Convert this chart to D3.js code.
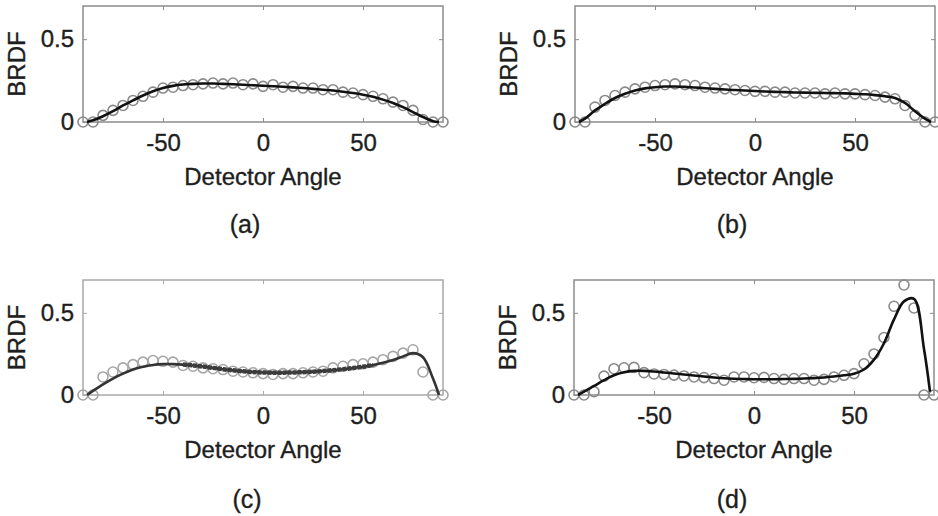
<!DOCTYPE html>
<html>
<head>
<meta charset="utf-8">
<script src="https://cdn.jsdelivr.net/npm/d3@7"></script>
<style>
  body { margin: 0; background: white; }
  text { font-family: "Liberation Sans", Arial, sans-serif; fill: #1e1e1e; stroke: #1e1e1e; stroke-width: 0.35px; }
</style>
</head>
<body>
<div id="chart"></div>
<script>

// measured points, every 5 degrees
var angles = [-90, -85, -80, -75, -70, -65, -60, -55, -50, -45, -40, -35, -30, -25, -20, -15, -10, -5, 0,
              5, 10, 15, 20, 25, 30, 35, 40, 45, 50, 55, 60, 65, 70, 75, 80, 85, 90];

// model fit curve
var fitAngles = [-88, -85, -80, -75, -70, -65, -60, -55, -50, -45, -40, -35, -30, -25, -20, -15, -10, -5, 0,
                 5, 10, 15, 20, 25, 30, 35, 40, 45, 50, 55, 60, 65, 70, 75, 80, 85, 88];

var measA = [0, 0, 0.04, 0.07, 0.10, 0.13, 0.155, 0.18, 0.205, 0.21, 0.22, 0.225, 0.23, 0.235, 0.23, 0.235, 0.225, 0.23, 0.215,
             0.225, 0.21, 0.215, 0.205, 0.205, 0.195, 0.195, 0.18, 0.175, 0.165, 0.155, 0.14, 0.12, 0.1, 0.07, 0.015, 0, 0];
var fitA = [0, 0.01, 0.035, 0.065, 0.10, 0.13, 0.16, 0.185, 0.205, 0.218, 0.226, 0.23, 0.232, 0.232, 0.23, 0.228, 0.225, 0.222, 0.219,
            0.216, 0.213, 0.209, 0.205, 0.2, 0.195, 0.19, 0.183, 0.175, 0.165, 0.152, 0.135, 0.115, 0.09, 0.06, 0.03, 0.005, 0];

var measB = [0, 0, 0.09, 0.13, 0.16, 0.18, 0.2, 0.21, 0.22, 0.225, 0.23, 0.225, 0.22, 0.21, 0.205, 0.2, 0.195, 0.19, 0.185,
             0.185, 0.18, 0.18, 0.175, 0.175, 0.175, 0.17, 0.175, 0.17, 0.17, 0.165, 0.16, 0.15, 0.14, 0.1, 0.04, 0, 0];
var fitB = [0, 0.02, 0.07, 0.11, 0.145, 0.17, 0.19, 0.203, 0.21, 0.214, 0.214, 0.212, 0.208, 0.204, 0.2, 0.196, 0.193, 0.19, 0.187,
            0.184, 0.182, 0.18, 0.178, 0.177, 0.176, 0.175, 0.174, 0.173, 0.17, 0.167, 0.162, 0.155, 0.145, 0.115, 0.065, 0.02, 0];

var measC = [0, 0, 0.11, 0.14, 0.165, 0.185, 0.2, 0.21, 0.205, 0.2, 0.18, 0.175, 0.165, 0.16, 0.155, 0.145, 0.14, 0.135, 0.13,
             0.125, 0.13, 0.13, 0.135, 0.14, 0.145, 0.165, 0.175, 0.185, 0.19, 0.2, 0.215, 0.235, 0.255, 0.275, 0.14, 0, 0];
var fitC = [0, 0.025, 0.065, 0.1, 0.13, 0.155, 0.172, 0.183, 0.188, 0.188, 0.185, 0.18, 0.173, 0.165, 0.157, 0.15, 0.144, 0.14, 0.137,
            0.136, 0.136, 0.137, 0.139, 0.142, 0.146, 0.151, 0.157, 0.164, 0.172, 0.182, 0.196, 0.213, 0.235, 0.255, 0.23, 0.1, 0];

var measD = [0, 0, 0.02, 0.115, 0.16, 0.166, 0.168, 0.136, 0.128, 0.125, 0.121, 0.116, 0.11, 0.106, 0.1, 0.09, 0.11, 0.11, 0.105,
             0.107, 0.1, 0.095, 0.1, 0.1, 0.09, 0.095, 0.11, 0.12, 0.13, 0.19, 0.25, 0.35, 0.54, 0.67, 0.53, 0, 0];
var fitD = [0, 0.02, 0.055, 0.09, 0.12, 0.138, 0.147, 0.147, 0.143, 0.137, 0.131, 0.125, 0.119, 0.113, 0.107, 0.102, 0.099, 0.097, 0.096,
            0.096, 0.096, 0.097, 0.098, 0.1, 0.103, 0.107, 0.113, 0.12, 0.13, 0.155, 0.215, 0.315, 0.46, 0.57, 0.585, 0.28, 0.02];

var xTicks = [-50, 0, 50];
var yTicks = [0, 0.5];
var xTitle = "Detector Angle";
var yTitle = "BRDF";

var width = 938, height = 516;

var svg = d3.select('#chart')
  .append('svg')
  .attr('width', width)
  .attr('height', height);

// panel boxes in page pixels
var panels = [
  {label: '(a)', meas: measA, fit: fitA, left: 83,  right: 443, top: 6,   bottom: 122, capX: 245, capDy: 111, boxC: '#8c8c8c', dotC: '#8a8a8a', lineC: '#111'},
  {label: '(b)', meas: measB, fit: fitB, left: 575, right: 935, top: 6,   bottom: 122, capX: 732, capDy: 111, boxC: '#8c8c8c', dotC: '#8a8a8a', lineC: '#111'},
  {label: '(c)', meas: measC, fit: fitC, left: 83,  right: 443, top: 280, bottom: 395, capX: 247, capDy: 113, boxC: '#a8a8a8', dotC: '#a6a6a6', lineC: '#333', band: [-42, 56]},
  {label: '(d)', meas: measD, fit: fitD, left: 574, right: 934, top: 280, bottom: 395, capX: 732, capDy: 113, boxC: '#8c8c8c', dotC: '#8a8a8a', lineC: '#111'}
];

function styleLabels(a) {
  a.select('.domain').remove();
  a.selectAll('text')
    .attr('font-size', 24)
    .attr('fill', '#1e1e1e')
    .attr('font-family', '"Liberation Sans", Arial, sans-serif');
}

panels.forEach(function(p) {
  var x = d3.scaleLinear().domain([-90, 90]).range([p.left, p.right]);
  var y = d3.scaleLinear().domain([0, 0.7]).range([p.bottom, p.top]);

  var g = svg.append('g');

  // bottom + left axes with labels, ticks pointing inward
  g.append('g')
    .attr('transform', 'translate(0,' + p.bottom + ')')
    .call(d3.axisBottom(x).tickValues(xTicks).tickSizeInner(-4).tickSizeOuter(0).tickPadding(12).tickFormat(function(d) { return String(d); }))
    .call(styleLabels)
    .call(function(a) { a.selectAll('line').attr('stroke', p.boxC); });

  g.append('g')
    .attr('transform', 'translate(0,' + p.top + ')')
    .call(d3.axisTop(x).tickValues(xTicks).tickSizeInner(-4).tickSizeOuter(0).tickFormat(''))
    .call(function(a) {
      a.select('.domain').remove();
      a.selectAll('line').attr('stroke', p.boxC);
    });

  g.append('g')
    .attr('transform', 'translate(' + p.left + ',0)')
    .call(d3.axisLeft(y).tickValues(yTicks).tickSizeInner(-4).tickSizeOuter(0).tickPadding(9).tickFormat(function(d) { return String(d); }))
    .call(styleLabels)
    .call(function(a) { a.selectAll('line').attr('stroke', p.boxC); });

  g.append('g')
    .attr('transform', 'translate(' + p.right + ',0)')
    .call(d3.axisRight(y).tickValues([0.5]).tickSizeInner(-4).tickSizeOuter(0).tickFormat(''))
    .call(function(a) {
      a.select('.domain').remove();
      a.selectAll('line').attr('stroke', p.boxC);
    });

  g.append('rect')
    .attr('x', p.left)
    .attr('y', p.top)
    .attr('width', p.right - p.left)
    .attr('height', p.bottom - p.top)
    .attr('fill', 'none')
    .attr('stroke', p.boxC)
    .attr('stroke-width', 1.5);

  // measured points
  g.selectAll('circle')
    .data(angles.map(function(a, i) { return {a: a, v: p.meas[i]}; }))
    .enter()
    .append('circle')
    .attr('cx', function(d) { return x(d.a); })
    .attr('cy', function(d) { return y(d.v); })
    .attr('r', 5)
    .attr('fill', 'none')
    .attr('stroke', p.dotC)
    .attr('stroke-width', 1.6);

  var fitPts = fitAngles.map(function(a, i) { return {a: a, v: p.fit[i]}; });
  var line = d3.line()
    .x(function(d) { return x(d.a); })
    .y(function(d) { return y(d.v); })
    .curve(d3.curveCatmullRom);

  g.append('path')
    .datum(fitPts)
    .attr('d', line)
    .attr('fill', 'none')
    .attr('stroke', p.lineC)
    .attr('stroke-width', 2.6);

  // (c) has a dense dark band of points along the middle of the curve
  if (p.band) {
    g.append('path')
      .datum(fitPts.filter(function(d) { return d.a >= p.band[0] && d.a <= p.band[1]; }))
      .attr('d', line)
      .attr('fill', 'none')
      .attr('stroke', '#3c3c3c')
      .attr('stroke-width', 4.5)
      .attr('stroke-dasharray', '4 1');
  }

  g.append('text')
    .attr('x', (p.left + p.right) / 2)
    .attr('y', p.bottom + 63)
    .attr('text-anchor', 'middle')
    .style('font-size', '24px')
    .text(xTitle);

  g.append('text')
    .attr('transform', 'translate(' + (p.left - 66) + ',' + ((p.top + p.bottom) / 2) + ') rotate(-90)')
    .attr('dy', '0.35em')
    .attr('text-anchor', 'middle')
    .style('font-size', '24px')
    .text(yTitle);

  g.append('text')
    .attr('x', p.capX)
    .attr('y', p.bottom + p.capDy)
    .attr('text-anchor', 'middle')
    .style('font-size', '25px')
    .text(p.label);
});

</script>
</body>
</html>
